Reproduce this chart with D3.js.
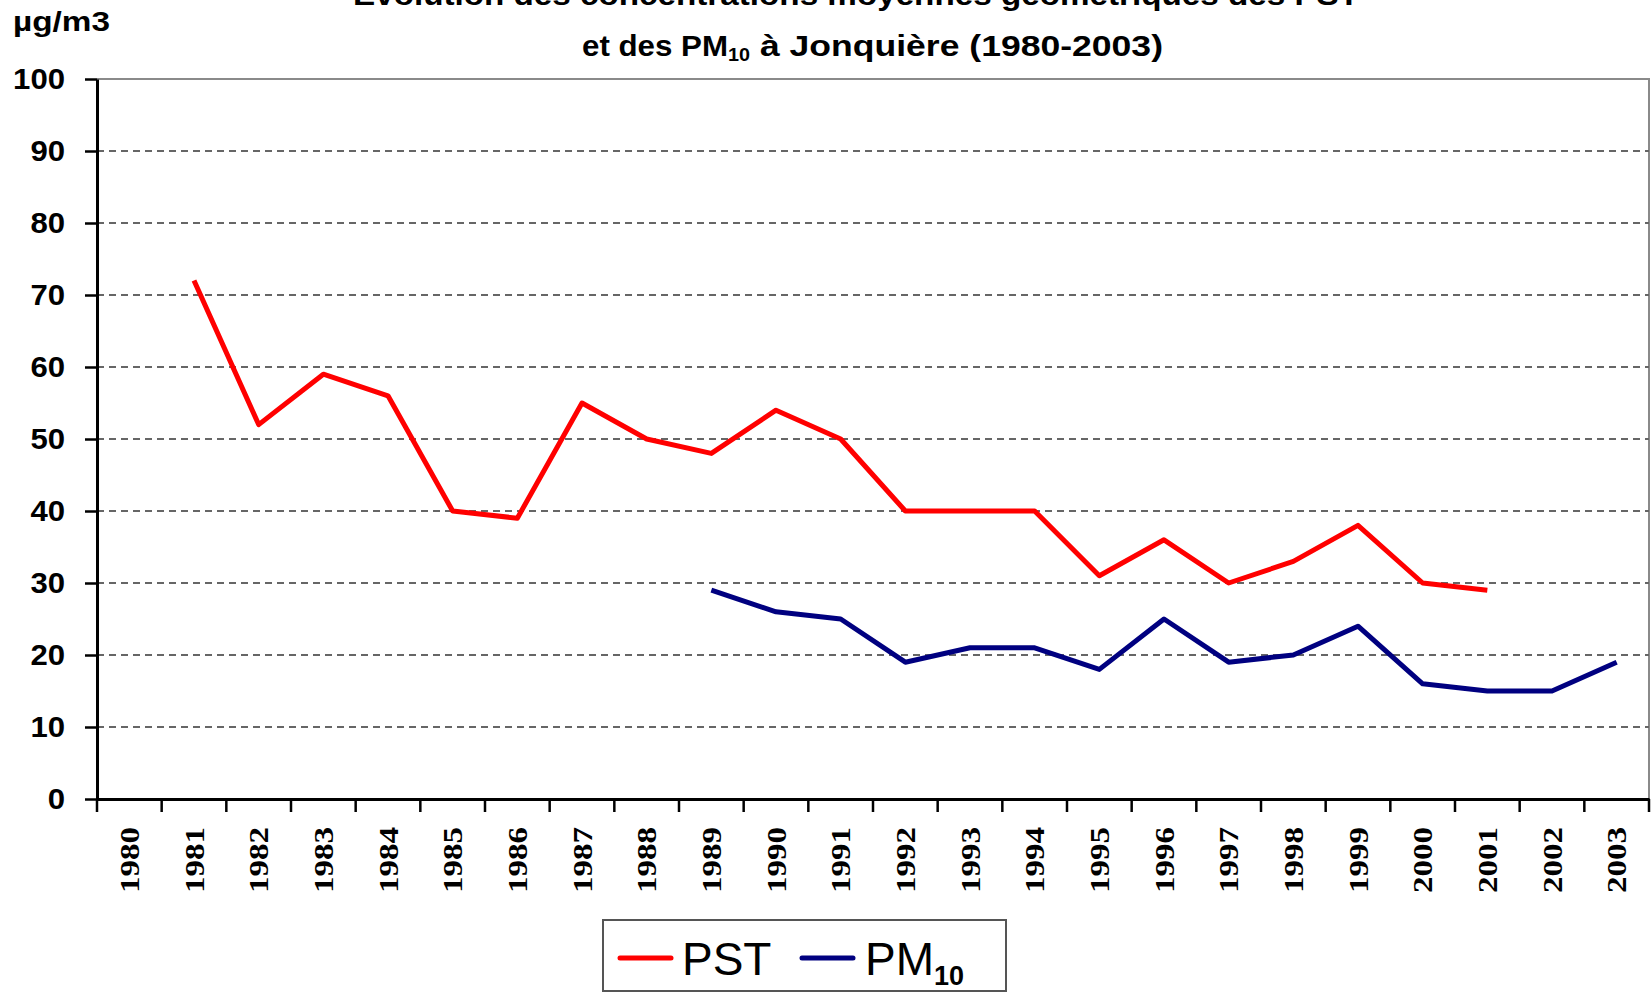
<!DOCTYPE html>
<html>
<head>
<meta charset="utf-8">
<script src="https://cdn.jsdelivr.net/npm/d3@7"></script>
<style>
  body { margin: 0; background: #fff; }
  svg { display: block; font-family: Arial, "Liberation Sans", sans-serif; }
</style>
</head>
<body>
<svg width="1652" height="993"></svg>
<script>
// years on the category axis
var years = d3.range(1980, 2004);
var yTicks = [0, 10, 20, 30, 40, 50, 60, 70, 80, 90, 100];

// PST, 1981-2001
var pstYears = [1981, 1982, 1983, 1984, 1985, 1986, 1987, 1988, 1989, 1990, 1991,
  1992, 1993, 1994, 1995, 1996, 1997, 1998, 1999, 2000, 2001];
var pstValues = [72, 52, 59, 56, 40, 39, 55, 50, 48, 54, 50,
  40, 40, 40, 31, 36, 30, 33, 38, 30, 29];

// PM10, 1989-2003
var pmYears = [1989, 1990, 1991, 1992, 1993, 1994, 1995, 1996, 1997, 1998,
  1999, 2000, 2001, 2002, 2003];
var pmValues = [29, 26, 25, 19, 21, 21, 18, 25, 19, 20, 24, 16, 15, 15, 19];

var svg = d3.select("svg"),
  plotLeft = 97, plotRight = 1649, plotTop = 79, plotBottom = 799;

var x = d3.scaleBand().domain(years).range([plotLeft, plotRight]).padding(0),
  y = d3.scaleLinear().domain([0, 100]).range([plotBottom, plotTop]);

// plot area border (top + right, gray)
svg.append("path")
  .attr("d", "M" + plotLeft + "," + plotTop + "H" + plotRight + "V" + plotBottom)
  .attr("fill", "none")
  .attr("stroke", "#8a8a8a")
  .attr("stroke-width", 2);

// dashed gridlines
svg.append("g").selectAll("line")
  .data(yTicks.filter(function(d) { return d > 0 && d < 100; }))
  .enter().append("line")
  .attr("x1", plotLeft).attr("x2", plotRight)
  .attr("y1", function(d) { return y(d); })
  .attr("y2", function(d) { return y(d); })
  .attr("stroke", "#666")
  .attr("stroke-width", 2.2)
  .attr("stroke-dasharray", "7,5");

// y axis
var yAxis = svg.append("g")
  .attr("transform", "translate(" + plotLeft + ",0)")
  .call(d3.axisLeft(y).tickValues(yTicks).tickSize(12).tickPadding(20).tickSizeOuter(0));
yAxis.select(".domain").attr("stroke", "#000").attr("stroke-width", 3);
yAxis.selectAll(".tick line").attr("stroke", "#000").attr("stroke-width", 2.5);
yAxis.selectAll(".tick text")
  .attr("font-size", 30).attr("font-weight", "bold").attr("fill", "#000")
  .attr("font-family", "Arial, 'Liberation Sans', sans-serif")
  .attr("textLength", function(d) { return String(d).length * 17.3; })
  .attr("lengthAdjust", "spacingAndGlyphs");

// x axis (labels centred in categories, ticks on category boundaries)
var xAxis = svg.append("g")
  .attr("transform", "translate(0," + plotBottom + ")")
  .call(d3.axisBottom(x).tickSize(0).tickSizeOuter(0));
xAxis.select(".domain").attr("stroke", "#000").attr("stroke-width", 3);
xAxis.selectAll(".tick text")
  .attr("font-size", 28).attr("font-weight", "bold").attr("fill", "#000")
  .attr("font-family", "'Liberation Serif', 'Times New Roman', serif")
  .attr("text-anchor", "end")
  .attr("dy", null)
  .attr("dominant-baseline", "central")
  .attr("textLength", 66).attr("lengthAdjust", "spacingAndGlyphs")
  .attr("transform", "translate(0,28) rotate(-90)")
  .attr("y", 0).attr("x", 0);

var bounds = years.map(function(d) { return x(d); }).concat([plotRight]);
svg.append("g").selectAll("line")
  .data(bounds)
  .enter().append("line")
  .attr("x1", function(d) { return d; })
  .attr("x2", function(d) { return d; })
  .attr("y1", plotBottom).attr("y2", plotBottom + 13)
  .attr("stroke", "#000").attr("stroke-width", 2.5);

// lines
var line = d3.line()
  .x(function(d) { return x(d[0]) + x.bandwidth() / 2; })
  .y(function(d) { return y(d[1]); });

svg.append("path")
  .datum(d3.zip(pstYears, pstValues))
  .attr("d", line)
  .attr("fill", "none")
  .attr("stroke", "#ff0000")
  .attr("stroke-width", 5)
  .attr("stroke-linejoin", "round");

svg.append("path")
  .datum(d3.zip(pmYears, pmValues))
  .attr("d", line)
  .attr("fill", "none")
  .attr("stroke", "#000080")
  .attr("stroke-width", 5)
  .attr("stroke-linejoin", "round");

// titles
svg.append("text")
  .attr("x", 353).attr("y", 5)
  .attr("font-size", 30).attr("font-weight", "bold")
  .attr("textLength", 1006).attr("lengthAdjust", "spacingAndGlyphs")
  .text("Évolution des concentrations moyennes géométriques des PST");

var t2 = svg.append("text")
  .attr("x", 582).attr("y", 56)
  .attr("font-size", 30).attr("font-weight", "bold");
t2.append("tspan").attr("textLength", 146).attr("lengthAdjust", "spacingAndGlyphs").text("et des PM");
t2.append("tspan").attr("font-size", 19).attr("dy", 5).attr("textLength", 22)
  .attr("lengthAdjust", "spacingAndGlyphs").text("10");
t2.append("tspan").attr("dy", -5).attr("textLength", 413)
  .attr("lengthAdjust", "spacingAndGlyphs").text(" à Jonquière (1980-2003)");

svg.append("text")
  .attr("x", 13).attr("y", 31)
  .attr("font-size", 27).attr("font-weight", "bold")
  .attr("textLength", 97).attr("lengthAdjust", "spacingAndGlyphs")
  .text("µg/m3");

// legend
var lg = svg.append("g");
lg.append("rect")
  .attr("x", 603).attr("y", 920).attr("width", 403).attr("height", 71)
  .attr("fill", "#fff").attr("stroke", "#555").attr("stroke-width", 2);
lg.append("line")
  .attr("x1", 620).attr("x2", 671).attr("y1", 958).attr("y2", 958)
  .attr("stroke", "#ff0000").attr("stroke-width", 5).attr("stroke-linecap", "round");
lg.append("text")
  .attr("x", 682).attr("y", 975)
  .attr("font-size", 46)
  .text("PST");
lg.append("line")
  .attr("x1", 802).attr("x2", 853).attr("y1", 958).attr("y2", 958)
  .attr("stroke", "#000080").attr("stroke-width", 5).attr("stroke-linecap", "round");
var lt = lg.append("text")
  .attr("x", 865).attr("y", 975)
  .attr("font-size", 46);
lt.append("tspan").text("PM");
lt.append("tspan").attr("font-size", 27).attr("font-weight", "bold").attr("dy", 10).text("10");
</script>
</body>
</html>
